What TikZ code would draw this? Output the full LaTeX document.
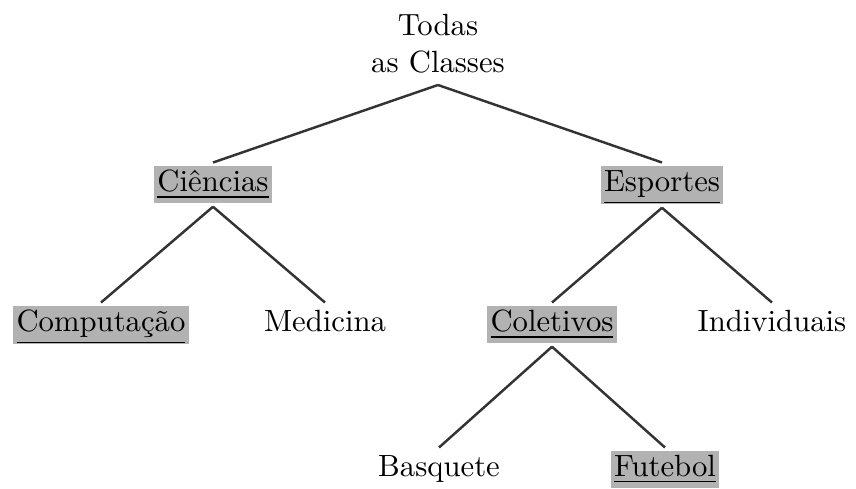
\documentclass[tikz,border=0pt]{standalone}
\usepackage{tikz}
\usetikzlibrary{calc,positioning}
\newcommand{\marca}[1]{\strut\underline{#1}}
\begin{document}
\begin{tikzpicture}[x=0.3257pt, y=-0.3257pt]
\tikzstyle{cls}=[inner xsep=1pt, inner ysep=0pt, outer sep=1.2pt, anchor=base]
\tikzstyle{sel}=[cls, fill=gray!60]
\tikzstyle{ramo}=[draw=black!80, line width=0.8pt]
\useasboundingbox (0,0) rectangle (856,489);
\node[align=center, inner xsep=2pt, inner ysep=4pt, outer sep=0pt, anchor=south] (root) at (438,85) {Todas\\as Classes};
%nivel 1
\node[sel] (cie) at (213,192) {\marca{Ciências}};
\node[sel] (esp) at (662,192) {\marca{Esportes}};
%nivel 2
\node[sel] (comp) at (101,332) {\marca{Computação}};
\node[cls] (med) at (325,332) {\strut Medicina};
\node[sel] (col) at (552,332) {\marca{Coletivos}};
\node[cls] (ind) at (772,332) {\strut Individuais};
%nivel 3
\node[cls] (bas) at (439,477) {\strut Basquete};
\node[sel] (fut) at (665,477) {\marca{Futebol}};
\foreach \i/\j in {root/cie,root/esp,cie/comp,cie/med,esp/col,esp/ind,col/bas,col/fut}{\draw[ramo] (\i.south) -- (\j.north);}
\end{tikzpicture}
\end{document}
